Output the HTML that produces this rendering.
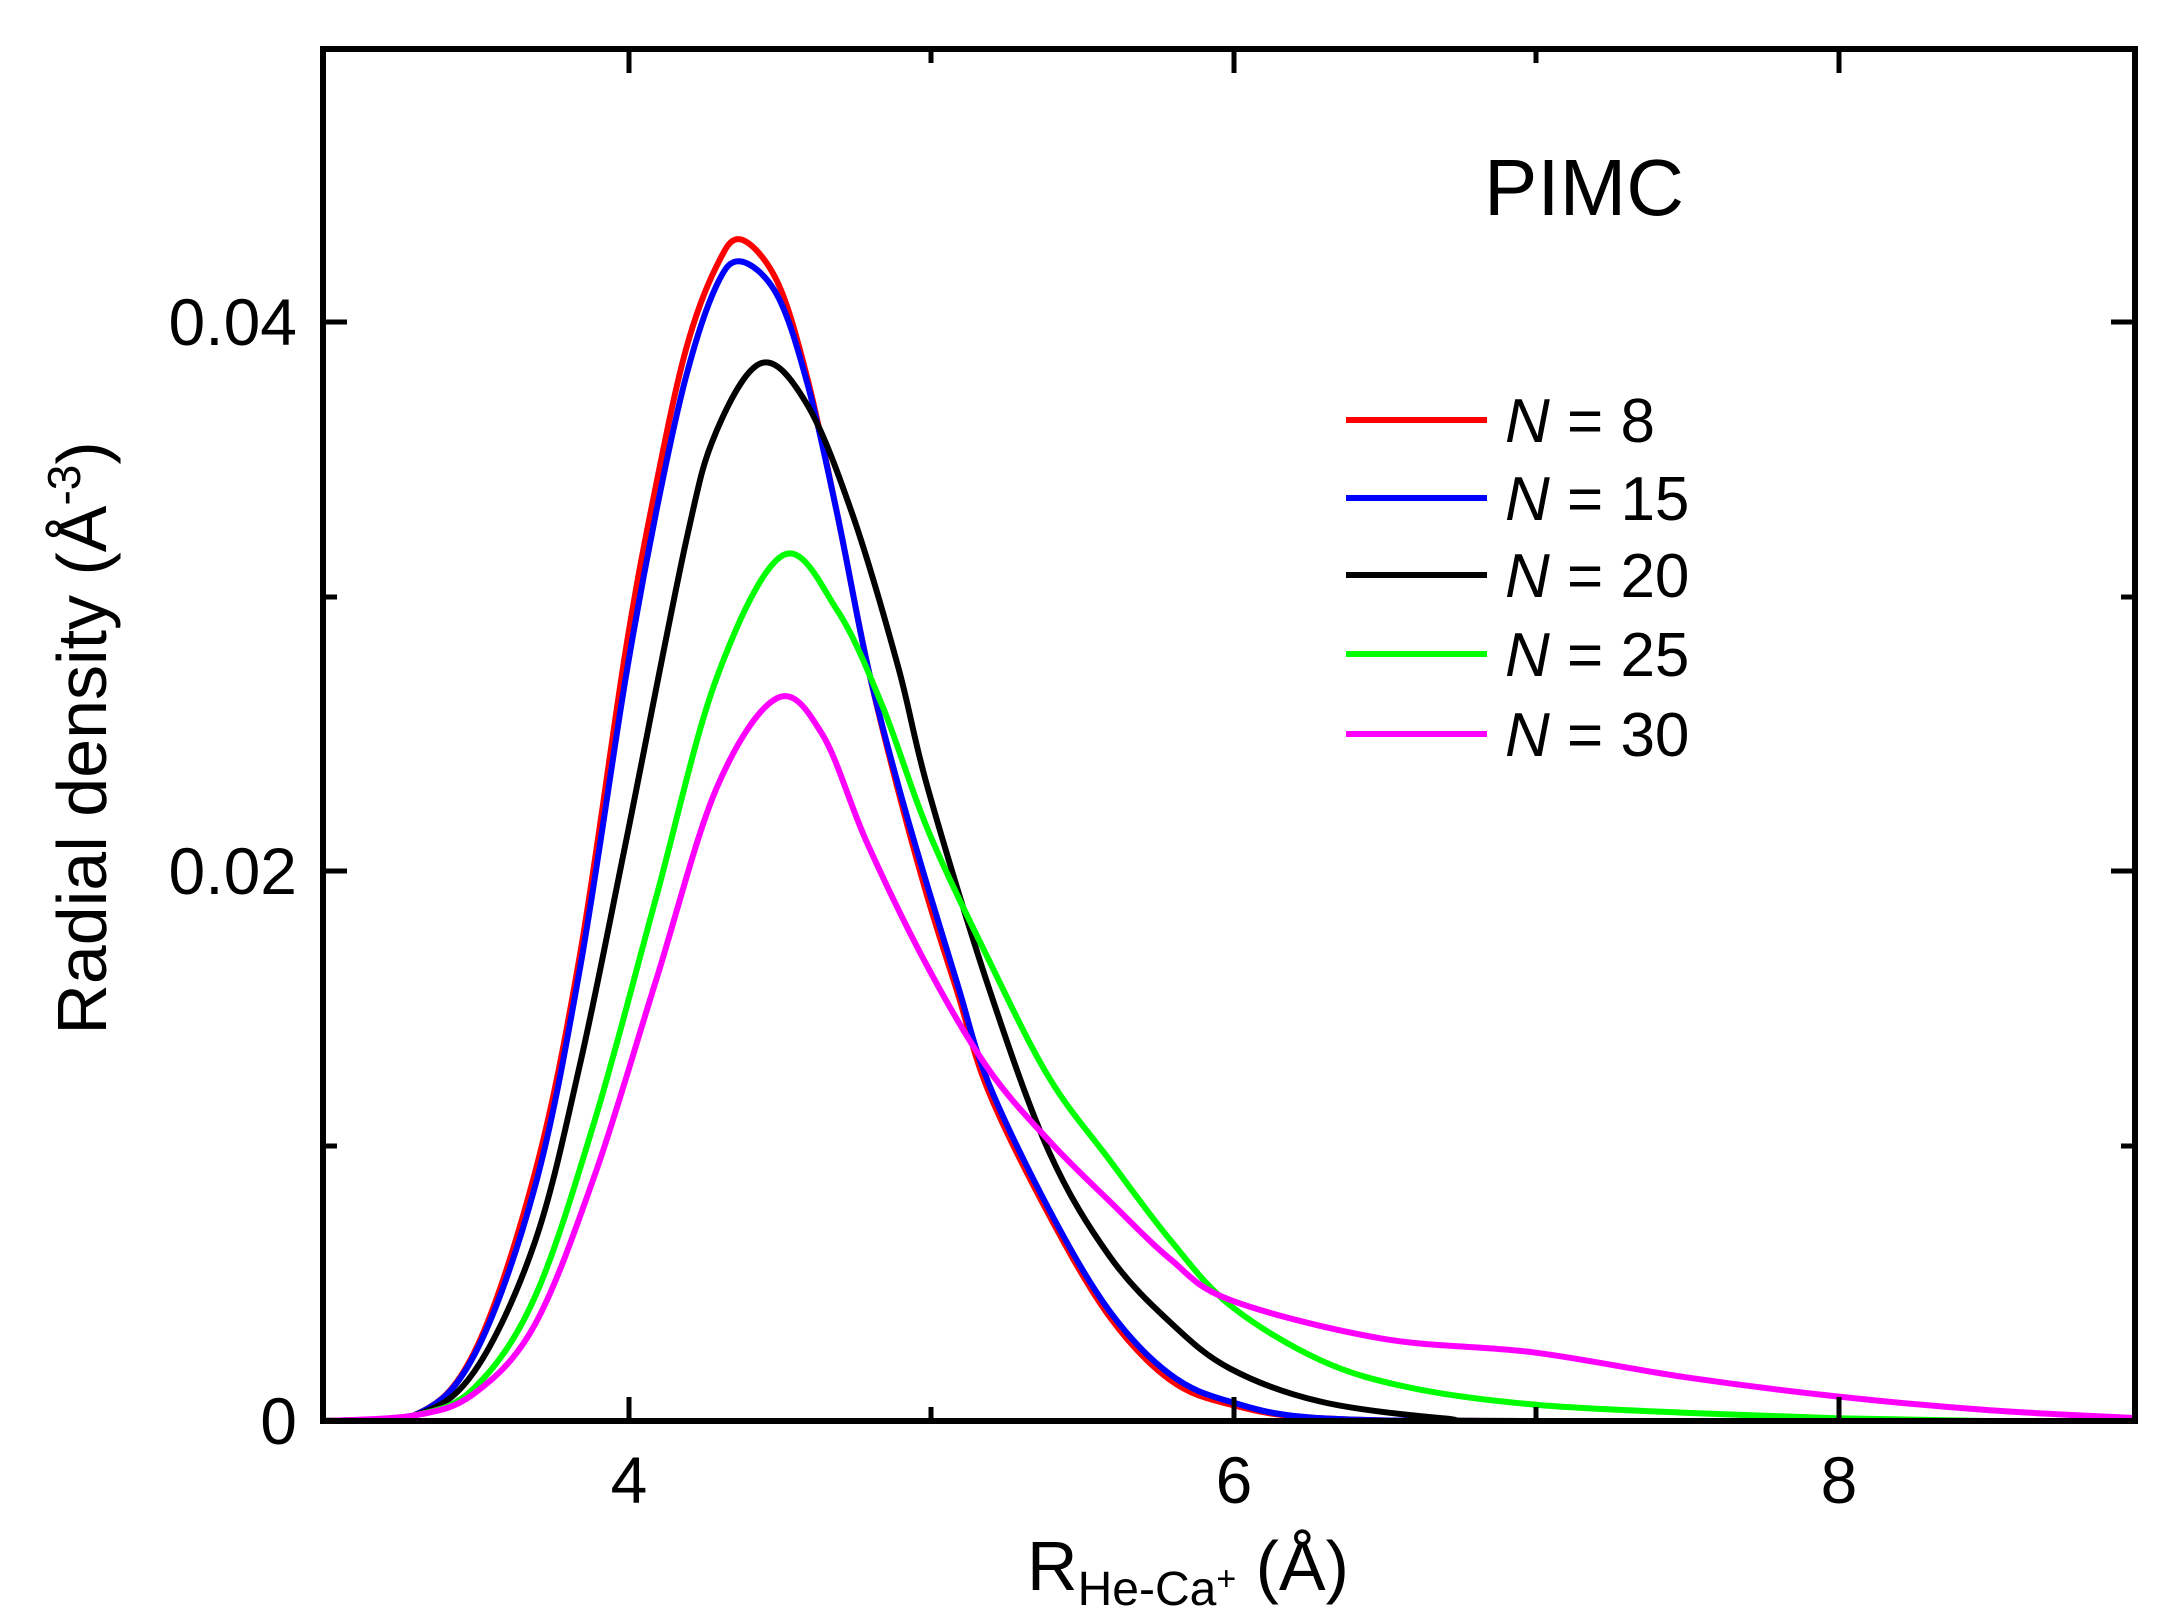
<!DOCTYPE html>
<html><head><meta charset="utf-8"><style>
html,body{margin:0;padding:0;background:#fff;}
svg{display:block;font-family:"Liberation Sans",Arial,sans-serif;}
</style></head><body>
<svg id="s" width="2171" height="1623" viewBox="0 0 2171 1623" xmlns="http://www.w3.org/2000/svg">
<rect width="2171" height="1623" fill="#fff"/>
<g id="curves" fill="none" stroke-width="6" stroke-linejoin="round"></g>
<g stroke="#000" stroke-width="5">
<line x1="629" y1="1421" x2="629" y2="1397"/><line x1="931" y1="1421" x2="931" y2="1407"/>
<line x1="1234" y1="1421" x2="1234" y2="1397"/><line x1="1536" y1="1421" x2="1536" y2="1407"/>
<line x1="1839" y1="1421" x2="1839" y2="1397"/>
<line x1="629" y1="49" x2="629" y2="73"/><line x1="931" y1="49" x2="931" y2="63"/>
<line x1="1234" y1="49" x2="1234" y2="73"/><line x1="1536" y1="49" x2="1536" y2="63"/>
<line x1="1839" y1="49" x2="1839" y2="73"/>
<line x1="323" y1="1146" x2="337" y2="1146"/><line x1="323" y1="871" x2="347" y2="871"/>
<line x1="323" y1="597" x2="337" y2="597"/><line x1="323" y1="322" x2="347" y2="322"/>
<line x1="2135" y1="1146" x2="2121" y2="1146"/><line x1="2135" y1="871" x2="2111" y2="871"/>
<line x1="2135" y1="597" x2="2121" y2="597"/><line x1="2135" y1="322" x2="2111" y2="322"/>
</g>
<rect x="323" y="49" width="1812" height="1372" fill="none" stroke="#000" stroke-width="6"/>
<g font-size="66" fill="#000">
<text x="297" y="345" text-anchor="end">0.04</text>
<text x="297" y="894" text-anchor="end">0.02</text>
<text x="297" y="1444" text-anchor="end">0</text>
<text x="629" y="1503" text-anchor="middle">4</text>
<text x="1234" y="1503" text-anchor="middle">6</text>
<text x="1839" y="1503" text-anchor="middle">8</text>
</g>
<text x="1188" y="1590" text-anchor="middle" font-size="70">R<tspan font-size="48" dy="15">He-Ca</tspan><tspan font-size="34" dy="-15">+</tspan><tspan dy="0"> (Å)</tspan></text>
<text transform="translate(106,738) rotate(-90)" text-anchor="middle" font-size="70">Radial density (Å<tspan font-size="46" dy="-26">-3</tspan><tspan dy="26">)</tspan></text>
<text x="1484" y="215" font-size="80">PIMC</text>
<g stroke-width="6">
<line x1="1346" y1="420" x2="1487" y2="420" stroke="#ff0000"/>
<line x1="1346" y1="498" x2="1487" y2="498" stroke="#0000ff"/>
<line x1="1346" y1="575" x2="1487" y2="575" stroke="#000"/>
<line x1="1346" y1="654" x2="1487" y2="654" stroke="#00ff00"/>
<line x1="1346" y1="734" x2="1487" y2="734" stroke="#ff00ff"/>
</g>
<g font-size="62">
<text x="1505" y="442"><tspan font-style="italic">N</tspan> = 8</text>
<text x="1505" y="520"><tspan font-style="italic">N</tspan> = 15</text>
<text x="1505" y="597"><tspan font-style="italic">N</tspan> = 20</text>
<text x="1505" y="676"><tspan font-style="italic">N</tspan> = 25</text>
<text x="1505" y="756"><tspan font-style="italic">N</tspan> = 30</text>
</g>
</svg>
<script>
var X=function(x){return 323+(x-3)*302.5},Y=function(y){return 1421-y*27480};
var D={
"#ff0000":[[3,0],[3.3,0.0002],[3.5,0.0025],[3.7,0.009],[3.85,0.017],[4,0.028],[4.1,0.034],[4.2,0.039],[4.3,0.042],[4.38,0.043],[4.5,0.0415],[4.6,0.038],[4.7,0.033],[4.8,0.0275],[4.9,0.023],[5,0.019],[5.1,0.0155],[5.2,0.012],[5.4,0.0075],[5.6,0.0038],[5.8,0.0015],[6,0.0006],[6.3,0.0001],[7,0],[9,0]],
"#0000ff":[[3,0],[3.3,0.0002],[3.5,0.0024],[3.7,0.0085],[3.85,0.0165],[4,0.027],[4.1,0.033],[4.2,0.038],[4.3,0.0413],[4.38,0.0422],[4.5,0.041],[4.6,0.0378],[4.7,0.033],[4.8,0.0275],[4.9,0.0232],[5,0.0194],[5.1,0.0158],[5.2,0.0123],[5.4,0.0077],[5.6,0.004],[5.8,0.0017],[6,0.0007],[6.3,0.0001],[7,0],[9,0]],
"#000000":[[3,0],[3.3,0.0002],[3.5,0.0018],[3.7,0.0065],[3.85,0.013],[4,0.021],[4.2,0.032],[4.3,0.036],[4.45,0.0385],[4.6,0.037],[4.75,0.033],[4.9,0.0275],[5,0.023],[5.2,0.0158],[5.4,0.0098],[5.6,0.006],[5.8,0.0036],[6,0.0019],[6.3,0.0007],[6.7,0.0001],[7,0],[9,0]],
"#00ff00":[[3,0],[3.3,0.0002],[3.5,0.0012],[3.7,0.0045],[3.9,0.011],[4.1,0.019],[4.3,0.027],[4.52,0.0315],[4.7,0.0295],[4.85,0.026],[5,0.0215],[5.2,0.0168],[5.4,0.0125],[5.6,0.0095],[5.8,0.0066],[6,0.0042],[6.3,0.0022],[6.6,0.0012],[7,0.0006],[7.5,0.0003],[8,0.0001],[8.5,0],[9,0]],
"#ff00ff":[[3,0],[3.3,0.0002],[3.5,0.001],[3.7,0.0035],[3.9,0.009],[4.1,0.016],[4.3,0.023],[4.5,0.0263],[4.65,0.025],[4.8,0.021],[5,0.0165],[5.2,0.0128],[5.4,0.0102],[5.6,0.008],[5.8,0.0059],[6,0.0044],[6.5,0.003],[7,0.0025],[7.5,0.0016],[8,0.0009],[8.5,0.0004],[9,0.0001]]};
var g=document.getElementById("curves"),ns="http://www.w3.org/2000/svg";
for(var c in D){var p=D[c].map(function(a){return [X(a[0]),Y(a[1])]});
var d="M"+p[0][0]+","+p[0][1];
for(var i=0;i<p.length-1;i++){var p0=p[i-1]||p[i],p1=p[i],p2=p[i+1],p3=p[i+2]||p2;
var c1=[p1[0]+(p2[0]-p0[0])/6,p1[1]+(p2[1]-p0[1])/6],c2=[p2[0]-(p3[0]-p1[0])/6,p2[1]-(p3[1]-p1[1])/6];
c1[1]=Math.min(c1[1],1421);c2[1]=Math.min(c2[1],1421);
d+="C"+c1+" "+c2+" "+p2;}
var e=document.createElementNS(ns,"path");e.setAttribute("d",d);e.setAttribute("stroke",c);g.appendChild(e);}
</script>
</body></html>
